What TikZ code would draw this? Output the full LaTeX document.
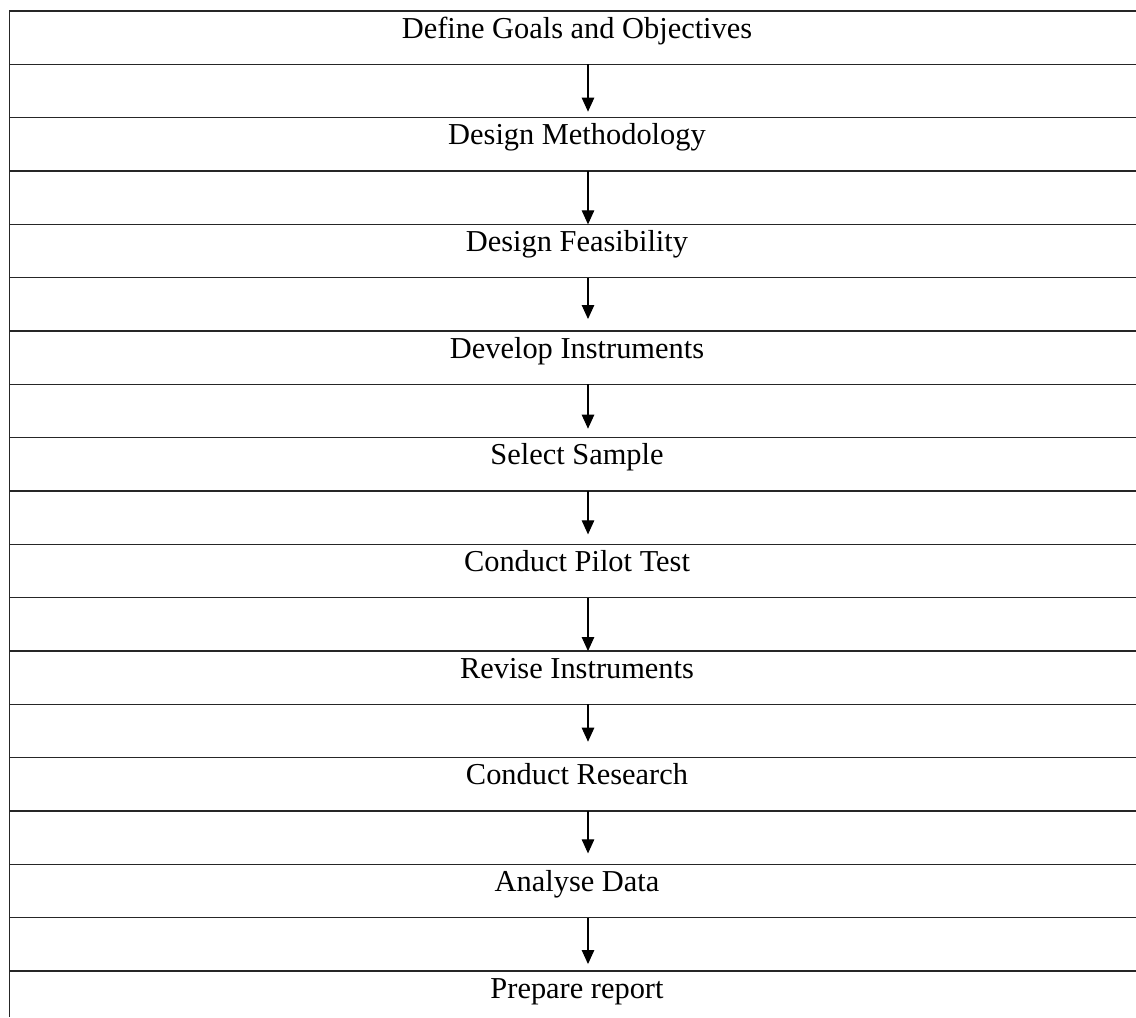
\documentclass[tikz,border=0pt]{standalone}
\usepackage{fontspec}
\setmainfont{Liberation Serif}
\usetikzlibrary{arrows.meta,positioning}

\begin{document}
\begin{tikzpicture}[
        node distance = 2.1333cm,
        stage/.style = {inner sep=0pt, text height=0.45cm, text depth=0.12cm,
                        font=\fontsize{17.3}{20}\selectfont},
        rule/.style = {draw=black!85, line width=0.8pt},
        flow/.style = {-{Triangle[width=0.25cm,length=0.28cm]}, line width=0.6pt}]

        \useasboundingbox (0,0) rectangle (22.72,-20.34);

        % RULES
        \draw[rule] (0.186,-0.22) -- (0.186,-20.34);
        \foreach \k in {0,...,18}
            \draw[rule] (0.186,{-0.22-1.0667*\k}) -- (22.72,{-0.22-1.0667*\k});

        % NODES
        \node[stage] (goals) at (11.54,-0.6) {Define Goals and Objectives};
        \node[stage, below of = goals] (method) {Design Methodology};
        \node[stage, below of = method] (feasib) {Design Feasibility};
        \node[stage, below of = feasib] (instr) {Develop Instruments};
        \node[stage, below of = instr] (sample) {Select Sample};
        \node[stage, below of = sample] (pilot) {Conduct Pilot Test};
        \node[stage, below of = pilot] (revise) {Revise Instruments};
        \node[stage, below of = revise] (research) {Conduct Research};
        \node[stage, below of = research] (analyse) {Analyse Data};
        \node[stage, below of = analyse] (report) {Prepare report};

        % ARROWS
        \foreach \j/\g in {0/0.12, 1/0, 2/0.24, 3/0.18, 4/0.2, 5/0, 6/0.32, 7/0.22, 8/0.14} {
            \coordinate (from\j) at (11.76,{-0.22-1.0667*(2*\j+1)});
            \coordinate (to\j) at (11.76,{-0.22-1.0667*(2*\j+2)+\g});
            \draw[flow] (from\j) -- (to\j);
        }
\end{tikzpicture}
\end{document}
